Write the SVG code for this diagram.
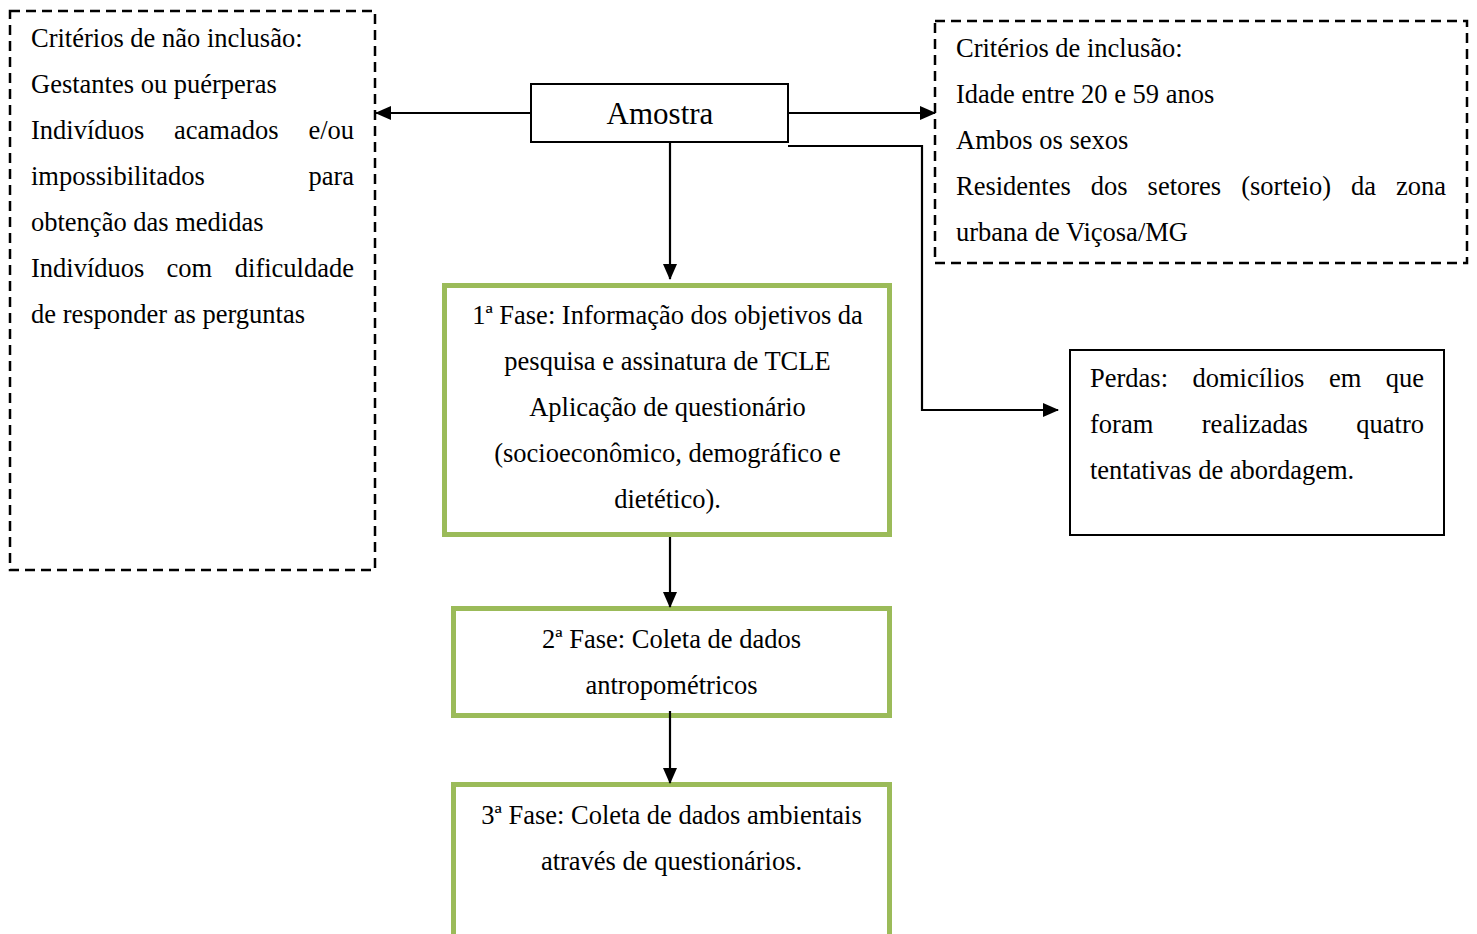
<svg xmlns="http://www.w3.org/2000/svg" width="1477" height="934" viewBox="0 0 1477 934">
<defs>
<style>
text{font-family:"Liberation Serif","Times New Roman",serif;font-size:26.5px;fill:#000}
.dash{fill:#fff;stroke:#000;stroke-width:2.5;stroke-dasharray:10 6}
.box{fill:#fff;stroke:#000;stroke-width:2}
.green{fill:#fff;stroke:#9BBB59;stroke-width:5}
.conn{fill:none;stroke:#000;stroke-width:2.2}
.mid{text-anchor:middle}
.end{text-anchor:end}
</style>
<marker id="arr" markerUnits="userSpaceOnUse" markerWidth="16" markerHeight="14" refX="15" refY="7" orient="auto">
<path d="M0,0 L16,7 L0,14 Z" fill="#000"/>
</marker>
</defs>
<rect width="1477" height="934" fill="#fff"/>

<g id="exclusao">
<rect class="dash" x="10" y="11" width="365" height="559"/>
<g transform="translate(0,1.5)">
<text x="31" y="45">Critérios de não inclusão:</text>
<text x="31" y="91">Gestantes ou puérperas</text>
<text x="31" y="137">Indivíduos</text><text x="174" y="137">acamados</text><text class="end" x="354" y="137">e/ou</text>
<text x="31" y="183">impossibilitados</text><text class="end" x="354" y="183">para</text>
<text x="31" y="229">obtenção das medidas</text>
<text x="31" y="275">Indivíduos</text><text x="166.6" y="275">com</text><text class="end" x="354" y="275">dificuldade</text>
<text x="31" y="321">de responder as perguntas</text>
</g>
</g>

<g id="amostra">
<rect class="box" x="531" y="84" width="257" height="58"/>
<text class="mid" x="660" y="124" style="font-size:31px">Amostra</text>
</g>

<g id="inclusao">
<rect class="dash" x="935" y="21" width="532" height="242"/>
<g transform="translate(0,1.5)">
<text x="956" y="55">Critérios de inclusão:</text>
<text x="956" y="101">Idade entre 20 e 59 anos</text>
<text x="956" y="147">Ambos os sexos</text>
<text x="956" y="193">Residentes</text><text x="1090.8" y="193">dos</text><text x="1147.6" y="193">setores</text><text x="1241.2" y="193">(sorteio)</text><text x="1351" y="193">da</text><text class="end" x="1446" y="193">zona</text>
<text x="956" y="239">urbana de Viçosa/MG</text>
</g>
</g>

<g id="perdas">
<rect class="box" x="1070" y="350" width="374" height="185"/>
<g transform="translate(0,1.5)">
<text x="1090" y="385">Perdas:</text><text x="1192.5" y="385">domicílios</text><text x="1328.9" y="385">em</text><text class="end" x="1424" y="385">que</text>
<text x="1090" y="431">foram</text><text x="1201.8" y="431">realizadas</text><text class="end" x="1424" y="431">quatro</text>
<text x="1090" y="477">tentativas de abordagem.</text>
</g>
</g>

<g id="fase1">
<rect class="green" x="444.5" y="285.5" width="445" height="249"/>
<g transform="translate(0,1.5)">
<text class="mid" x="667.5" y="322">1ª Fase: Informação dos objetivos da</text>
<text class="mid" x="667.5" y="368">pesquisa e assinatura de TCLE</text>
<text class="mid" x="667.5" y="414">Aplicação de questionário</text>
<text class="mid" x="667.5" y="460">(socioeconômico, demográfico e</text>
<text class="mid" x="667.5" y="506">dietético).</text>
</g>
</g>

<g id="fase2">
<rect class="green" x="453.5" y="608.5" width="436" height="107"/>
<g transform="translate(0,1.5)">
<text class="mid" x="671.5" y="646">2ª Fase: Coleta de dados</text>
<text class="mid" x="671.5" y="692">antropométricos</text>
</g>
</g>

<g id="fase3">
<rect class="green" x="453.5" y="784.5" width="436" height="160"/>
<g transform="translate(0,1.5)">
<text class="mid" x="671.5" y="822">3ª Fase: Coleta de dados ambientais</text>
<text class="mid" x="671.5" y="868">através de questionários.</text>
</g>
</g>

<g id="connectors">
<line class="conn" x1="531" y1="113" x2="376" y2="113" marker-end="url(#arr)"/>
<line class="conn" x1="788" y1="113" x2="935" y2="113" marker-end="url(#arr)"/>
<polyline class="conn" points="788,146 922,146 922,410 1058,410" marker-end="url(#arr)"/>
<line class="conn" x1="670" y1="142" x2="670" y2="279" marker-end="url(#arr)"/>
<line class="conn" x1="670" y1="537" x2="670" y2="607" marker-end="url(#arr)"/>
<line class="conn" x1="670" y1="711" x2="670" y2="783" marker-end="url(#arr)"/>
</g>
</svg>
